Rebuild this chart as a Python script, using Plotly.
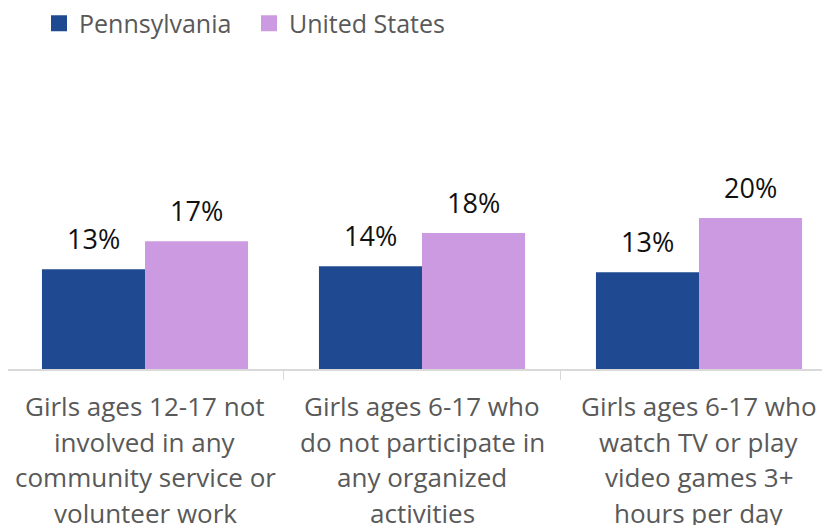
import plotly.graph_objects as go

categories = [
    ["Girls ages 12-17 not", "involved in any", "community service or", "volunteer work"],
    ["Girls ages 6-17 who", "do not participate in", "any organized", "activities"],
    ["Girls ages 6-17 who", "watch TV or play", "video games 3+", "hours per day"],
]
series_names = ["Pennsylvania", "United States"]
pennsylvania = [13.2, 13.6, 12.8]
united_states = [16.9, 18.0, 20.0]
colors = ["#1F4A92", "#CC9AE0"]

FONT = "Open Sans"
BAR_W = 0.372
xs = list(range(len(categories)))

fig = go.Figure()
for name, vals, col, off in [
    (series_names[0], pennsylvania, colors[0], -BAR_W),
    (series_names[1], united_states, colors[1], 0.0),
]:
    fig.add_trace(go.Bar(
        x=xs, y=vals, name=name, marker=dict(color=col, line=dict(width=0)),
        width=BAR_W, offset=off, showlegend=False,
    ))
    fig.add_trace(go.Scatter(
        x=[None], y=[None], mode="markers", name=name,
        marker=dict(symbol="square", size=16, color=col),
    ))
    for xi, v in zip(xs, vals):
        fig.add_annotation(
            x=xi + off + BAR_W / 2, y=v, xref="x", yref="y",
            text=f"{round(v)}%", showarrow=False, yanchor="bottom",
            yshift=10, font=dict(family=FONT, size=27, color="#111111"),
        )

line_gap = 35.5
for xi, lines in zip(xs, categories):
    for j, ln in enumerate(lines):
        fig.add_annotation(
            x=xi, y=0, xref="x", yref="paper", text=ln, showarrow=False,
            yanchor="top", yshift=-17 - j * line_gap,
            font=dict(family=FONT, size=26, color="#595959"),
        )

fig.update_layout(
    width=830, height=525,
    margin=dict(l=0, r=0, t=52, b=164),
    paper_bgcolor="white", plot_bgcolor="white",
    barmode="overlay",
    showlegend=True,
    legend=dict(orientation="h", x=31 / 830, y=1 - 15.5 / 525, xref="paper", yref="container",
                xanchor="left", yanchor="middle",
                font=dict(family=FONT, size=25, color="#595959"),
                entrywidth=165, entrywidthmode="pixels", itemsizing="trace",
                tracegroupgap=0, bgcolor="rgba(0,0,0,0)"),
    xaxis=dict(range=[-137 / 277, 693 / 277], tickvals=[-0.5, 0.5, 1.5], showticklabels=False,
               ticks="outside", ticklen=9, tickcolor="#D9D9D9", tickwidth=1,
               showline=True, linecolor="#D9D9D9", linewidth=1.5,
               showgrid=False, zeroline=False, fixedrange=True),
    yaxis=dict(range=[0, 40.9], visible=False, showgrid=False, zeroline=False),
)

fig.write_html("out.html")
